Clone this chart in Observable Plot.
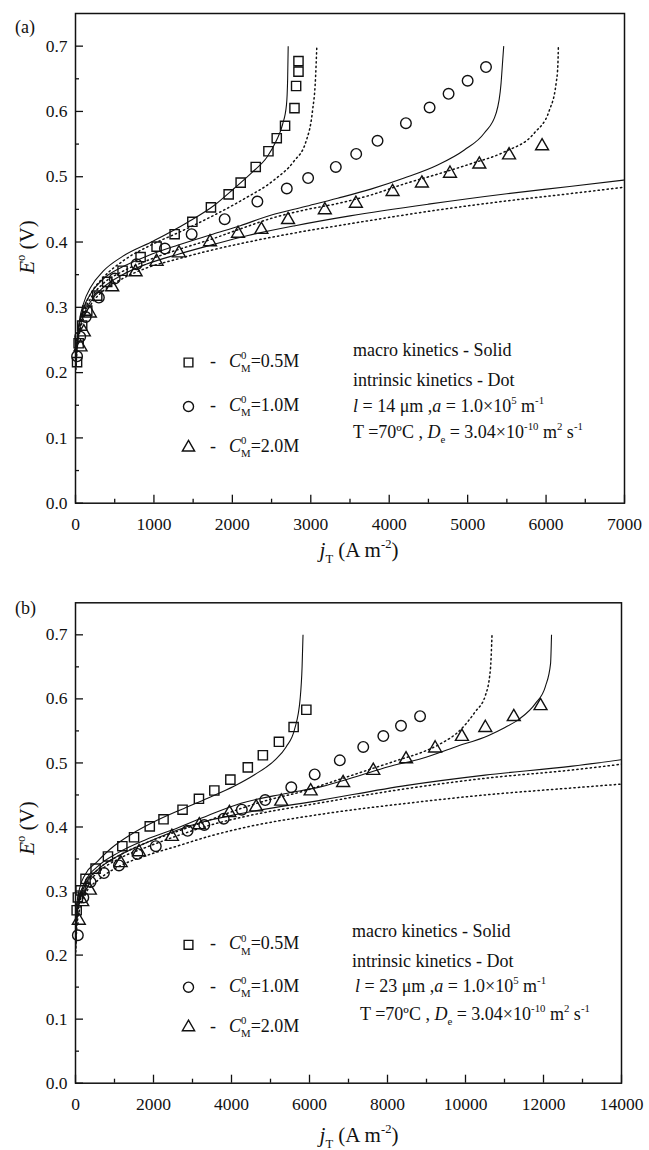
<!DOCTYPE html>
<html><head><meta charset="utf-8">
<script src="https://cdn.jsdelivr.net/npm/d3@7"></script>
<script src="https://cdn.jsdelivr.net/npm/@observablehq/plot@0.6"></script>
<style>
body{margin:0;background:#fff;}
.panel{position:relative;width:649px;}
.panel svg{display:block;}
</style></head>
<body>
<script>
// ---------- tick values ----------
const xTicksA = [0,1000,2000,3000,4000,5000,6000,7000];
const xMinorA = [500,1500,2500,3500,4500,5500,6500];
const xTicksB = [0,2000,4000,6000,8000,10000,12000,14000];
const xMinorB = [1000,3000,5000,7000,9000,11000,13000];
const yTicks = [0,0.1,0.2,0.3,0.4,0.5,0.6,0.7];
const yMinor = [0.05,0.15,0.25,0.35,0.45,0.55,0.65];

// ---------- panel (a) experimental points ----------
const aSqJ = [20,40,85,150,277,404,600,830,1034,1264,1490,1727,1953,2106,2298,2460,2566,2672,2792,2813,2843,2843];
const aSqE = [0.216,0.245,0.272,0.295,0.318,0.339,0.356,0.377,0.393,0.412,0.431,0.453,0.473,0.491,0.515,0.539,0.559,0.578,0.605,0.639,0.661,0.677];
const aCiJ = [20,60,130,298,500,779,1140,1481,1902,2319,2694,2966,3319,3579,3851,4213,4515,4757,5000,5234];
const aCiE = [0.225,0.255,0.285,0.315,0.344,0.366,0.390,0.412,0.435,0.462,0.482,0.498,0.515,0.535,0.555,0.582,0.606,0.627,0.647,0.668];
const aTrJ = [64,106,183,468,766,1034,1319,1715,2072,2370,2710,3179,3575,4043,4417,4775,5149,5528,5949];
const aTrE = [0.239,0.262,0.291,0.331,0.354,0.370,0.383,0.400,0.413,0.419,0.434,0.449,0.459,0.477,0.490,0.505,0.519,0.533,0.547];

// ---------- panel (a) model curves [j, E] ----------
const aSolid05 = [[5,0.215],[20,0.25],[50,0.28],[100,0.305],[200,0.332],[350,0.355],[600,0.378],[1000,0.402],[1426,0.430],[1766,0.456],[2021,0.482],[2255,0.507],[2447,0.531],[2560,0.555],[2640,0.58],[2690,0.61],[2705,0.65],[2712,0.70]];
const aDot05 = [[5,0.21],[20,0.245],[50,0.272],[100,0.295],[200,0.322],[350,0.345],[617,0.372],[957,0.395],[1340,0.416],[1766,0.441],[2149,0.466],[2532,0.495],[2787,0.524],[2936,0.553],[3021,0.60],[3060,0.65],[3077,0.70]];
const aSolid10 = [[5,0.215],[20,0.248],[50,0.275],[100,0.298],[200,0.322],[350,0.343],[600,0.362],[900,0.378],[1300,0.395],[1750,0.412],[2100,0.425],[2489,0.441],[2915,0.454],[3341,0.467],[3766,0.481],[4191,0.498],[4618,0.518],[4958,0.541],[5213,0.567],[5362,0.597],[5426,0.643],[5448,0.68],[5460,0.70]];
const aDot10 = [[5,0.21],[20,0.242],[50,0.268],[100,0.29],[200,0.315],[350,0.336],[600,0.355],[900,0.371],[1300,0.388],[1750,0.405],[2100,0.42],[2489,0.436],[2915,0.449],[3341,0.459],[3766,0.472],[4191,0.489],[4617,0.504],[5043,0.52],[5468,0.538],[5851,0.567],[6043,0.602],[6128,0.643],[6150,0.67],[6157,0.70]];
const aSolid20 = [[5,0.21],[20,0.24],[50,0.265],[100,0.287],[200,0.31],[350,0.33],[600,0.35],[900,0.366],[1300,0.381],[1750,0.396],[2200,0.41],[2800,0.425],[3500,0.44],[4500,0.458],[5500,0.474],[6300,0.485],[7000,0.495]];
const aDot20 = [[5,0.205],[20,0.235],[50,0.26],[100,0.282],[200,0.305],[350,0.325],[600,0.344],[900,0.36],[1300,0.374],[1750,0.388],[2200,0.40],[2800,0.414],[3500,0.428],[4500,0.447],[5500,0.463],[6300,0.474],[7000,0.484]];

// ---------- panel (b) experimental points ----------
const bSqJ = [30,60,129,257,515,832,1201,1501,1904,2257,2745,3165,3560,3971,4418,4804,5216,5593,5919];
const bSqE = [0.27,0.29,0.301,0.319,0.335,0.354,0.370,0.384,0.401,0.412,0.427,0.444,0.457,0.474,0.493,0.512,0.533,0.556,0.583];
const bCiJ = [60,200,386,729,1115,1587,2059,2874,3302,3800,4264,4864,5533,6133,6777,7378,7893,8346,8835];
const bCiE = [0.231,0.29,0.314,0.328,0.340,0.358,0.370,0.394,0.403,0.413,0.427,0.442,0.462,0.482,0.504,0.525,0.542,0.558,0.573];
const bTrJ = [85,172,368,1158,1630,2471,3174,3946,4632,5276,6030,6862,7635,8475,9221,9908,10508,11238,11924];
const bTrE = [0.254,0.283,0.301,0.344,0.361,0.385,0.403,0.422,0.431,0.440,0.456,0.469,0.488,0.506,0.523,0.541,0.555,0.572,0.589];

// ---------- panel (b) model curves [j, E] ----------
const bSolid05 = [[5,0.24],[30,0.275],[100,0.303],[250,0.326],[557,0.346],[901,0.366],[1415,0.388],[2015,0.408],[2702,0.427],[3389,0.445],[4075,0.464],[4600,0.482],[5104,0.504],[5400,0.525],[5620,0.553],[5760,0.60],[5810,0.65],[5834,0.70]];
const bDotUp = [[5,0.22],[30,0.26],[100,0.29],[250,0.31],[600,0.335],[1100,0.355],[1800,0.375],[2600,0.393],[3400,0.41],[4246,0.429],[4933,0.442],[5790,0.455],[6500,0.469],[7400,0.487],[8300,0.505],[8900,0.517],[9300,0.528],[9908,0.554],[10250,0.58],[10508,0.605],[10637,0.645],[10680,0.70]];
const bSolidUp = [[5,0.22],[30,0.26],[100,0.29],[250,0.315],[600,0.34],[1100,0.36],[1800,0.38],[2600,0.398],[3400,0.418],[4246,0.437],[5361,0.452],[6305,0.463],[7163,0.478],[8021,0.494],[8879,0.507],[9736,0.525],[10594,0.543],[11000,0.555],[11367,0.568],[11795,0.593],[12052,0.62],[12181,0.655],[12206,0.70]];
const bSolidFlat = [[5,0.215],[30,0.255],[100,0.285],[250,0.31],[600,0.335],[1100,0.355],[1800,0.375],[2600,0.395],[3400,0.41],[4246,0.421],[6305,0.442],[8500,0.465],[10500,0.481],[12739,0.495],[14000,0.505]];
const bDotFlat1 = [[5,0.21],[30,0.25],[100,0.28],[250,0.305],[600,0.33],[1100,0.35],[1800,0.368],[2600,0.386],[3400,0.402],[4246,0.415],[6305,0.438],[8500,0.46],[10500,0.476],[12739,0.489],[14000,0.498]];
const bDotFlat2 = [[5,0.205],[30,0.24],[100,0.27],[250,0.295],[600,0.318],[1100,0.338],[1800,0.355],[2600,0.37],[3400,0.385],[4246,0.398],[6305,0.42],[8500,0.437],[10500,0.45],[12739,0.461],[14000,0.467]];

const legendLabels = ["0.5M","1.0M","2.0M"];

const INK = "#111";
const FONT = "'Liberation Serif','Times New Roman',serif";

function rich(svg, x, y, parts, size = 18, opts = {}) {
  const t = d3.select(svg).append("text")
    .attr("x", x).attr("y", y).attr("font-size", size)
    .attr("font-family", FONT).attr("fill", INK)
    .attr("text-anchor", opts.anchor || "start")
    .style("white-space", "pre");
  if (opts.transform) t.attr("transform", opts.transform).attr("x", 0).attr("y", 0);
  let cur = 0;
  for (const p of parts) {
    const s = t.append("tspan").text(p.t);
    const off = p.sup ? -0.42 * size : p.sub ? 0.3 * size : 0;
    if (off !== cur) { s.attr("dy", off - cur); cur = off; }
    if (p.sup || p.sub) s.attr("font-size", size * 0.6);
    if (p.i) s.attr("font-style", "italic");
    if (p.dx) s.attr("dx", p.dx);
  }
  return t;
}

function makePanel(cfg) {
  const lineMark = (data, dotted) => Plot.line(data, {
    x: d => d[0], y: d => d[1], stroke: INK,
    strokeWidth: dotted ? 1.5 : 1.1,
    strokeDasharray: dotted ? "1.3,3.2" : null,
    strokeLinecap: dotted ? "round" : "butt",
    curve: "monotone-x", clip: true
  });
  const sym = {square: 5.2, circle: 5.3, triangle: 4.8};
  const ptMark = (J, E, s) => Plot.dot(J, {x: J, y: E, symbol: s, r: sym[s], stroke: INK, fill: "none", strokeWidth: 1.4});
  const legMark = (s, dy) => Plot.dot([0], {x: null, y: null, frameAnchor: "top-left", dx: cfg.legX - cfg.mL, dy: dy - cfg.mT, symbol: s, r: sym[s] * 0.95, stroke: INK, fill: "none", strokeWidth: 1.4});
  const svg = Plot.plot({
    width: 649, height: cfg.height,
    marginLeft: cfg.mL, marginRight: cfg.mR, marginTop: cfg.mT, marginBottom: cfg.mB,
    x: {domain: cfg.xDomain},
    y: {domain: [0, 0.75]},
    style: {fontFamily: FONT, fontSize: "17.5px", color: INK, background: "#fff", overflow: "visible"},
    marks: [
      ...cfg.solid.map(d => lineMark(d, false)),
      ...cfg.dotted.map(d => lineMark(d, true)),
      ptMark(cfg.sq[0], cfg.sq[1], "square"),
      ptMark(cfg.ci[0], cfg.ci[1], "circle"),
      ptMark(cfg.tr[0], cfg.tr[1], "triangle"),
      Plot.axisX({ticks: cfg.xTicks, tickSize: -8, tickPadding: 22, tickFormat: "d", label: null, strokeWidth: 1.3}),
      Plot.axisX({ticks: cfg.xMinor, tickSize: -4, tickFormat: () => "", label: null, strokeWidth: 1.3}),
      Plot.axisY({ticks: yTicks, tickSize: -8, tickPadding: 16, tickFormat: d3.format(".1f"), label: null, strokeWidth: 1.3}),
      Plot.axisY({ticks: yMinor, tickSize: -4, tickFormat: () => "", label: null, strokeWidth: 1.3}),
      Plot.frame({stroke: INK, strokeWidth: 1.5}),
      legMark("square", cfg.legY[0]),
      legMark("circle", cfg.legY[1]),
      legMark("triangle", cfg.legY[2])
    ]
  });
  const div = document.createElement("div");
  div.className = "panel";
  div.appendChild(svg);
  document.body.appendChild(div);

  rich(svg, 15, cfg.tagY, [{t: cfg.tag}], 18);
  rich(svg, 0, 0, [{t: "E", i: 1}, {t: "o", sup: 1}, {t: " (V)"}], 21, {anchor: "middle", transform: `translate(34,${cfg.yLabY}) rotate(-90)`});
  rich(svg, 359, cfg.xLabY, [{t: "j", i: 1}, {t: "T", sub: 1}, {t: " (A m"}, {t: "-2", sup: 1}, {t: ")"}], 21, {anchor: "middle"});
  legendLabels.forEach((lab, k) => {
    const y = cfg.legY[k] + 5;
    rich(svg, 213, y, [{t: "-"}], 18, {anchor: "middle"});
    rich(svg, 229, y, [{t: "C", i: 1}, {t: "0", sup: 1}, {t: "M", sub: 1, dx: -5.4}, {t: "=" + lab}], 18);
  });
  const [a1, a2, a3, a4] = cfg.annY;
  rich(svg, cfg.annX[0], a1, [{t: "macro kinetics - Solid"}], 18);
  rich(svg, cfg.annX[0], a2, [{t: "intrinsic kinetics - Dot"}], 18);
  rich(svg, cfg.annX[1], a3, [{t: "l", i: 1}, {t: " = " + cfg.thick + " \u03bcm ,"}, {t: "a", i: 1}, {t: " = 1.0\u00d710"}, {t: "5", sup: 1}, {t: " m"}, {t: "-1", sup: 1}], 18);
  rich(svg, cfg.annX[2], a4, [{t: "T =70\u00baC , "}, {t: "D", i: 1}, {t: "e", sub: 1}, {t: " = 3.04\u00d710"}, {t: "-10", sup: 1}, {t: " m"}, {t: "2", sup: 1}, {t: " s"}, {t: "-1", sup: 1}], 18);
}

makePanel({
  tag: "(a)", tagY: 33, height: 570, mL: 75, mR: 25, mT: 13, mB: 67.3,
  xDomain: [0, 7000], xTicks: xTicksA, xMinor: xMinorA,
  solid: [aSolid05, aSolid10, aSolid20], dotted: [aDot05, aDot10, aDot20],
  sq: [aSqJ, aSqE], ci: [aCiJ, aCiE], tr: [aTrJ, aTrE],
  legX: 188, legY: [362, 406, 447],
  yLabY: 247, xLabY: 557,
  annX: [353, 353, 353], annY: [356, 386, 412, 438], thick: "14"
});
makePanel({
  tag: "(b)", tagY: 44, height: 580, mL: 75, mR: 28, mT: 32.3, mB: 67.3,
  xDomain: [0, 14000], xTicks: xTicksB, xMinor: xMinorB,
  solid: [bSolid05, bSolidUp, bSolidFlat], dotted: [bDotUp, bDotFlat1, bDotFlat2],
  sq: [bSqJ, bSqE], ci: [bCiJ, bCiE], tr: [bTrJ, bTrE],
  legX: 188, legY: [374.3, 416.7, 456.7],
  yLabY: 258, xLabY: 572,
  annX: [352, 355, 360], annY: [367, 397, 421.7, 450], thick: "23"
});
</script>
</body></html>
